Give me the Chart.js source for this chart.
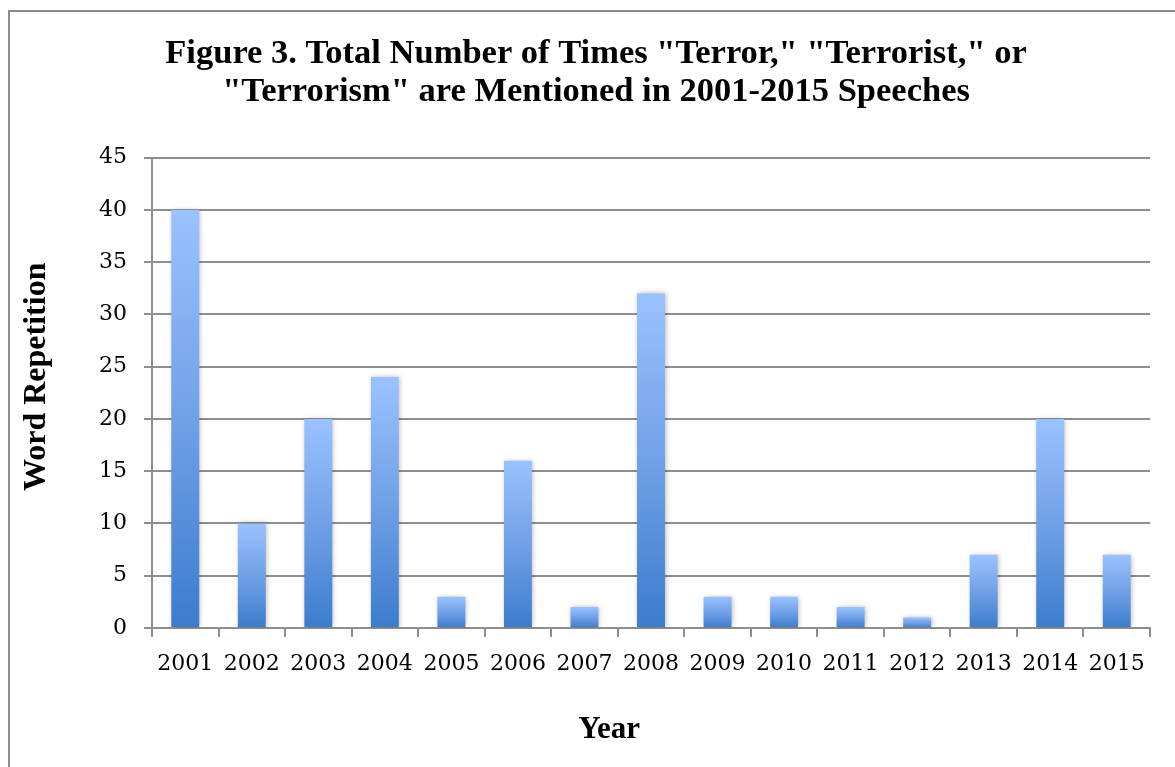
<!DOCTYPE html>
<html>
<head>
<meta charset="utf-8">
<script src="https://cdn.jsdelivr.net/npm/chart.js@4/dist/chart.umd.min.js"></script>
<style>
  html, body { margin: 0; padding: 0; background: #fff; overflow: hidden; }
  #frame { position: absolute; left: 8px; top: 10px; width: 1300px; height: 900px; border: 2px solid #8c8c8c; }
  #chart { position: absolute; left: 0; top: 0; }
</style>
</head>
<body>
<div id="frame"></div>
<canvas id="chart" width="1175" height="767"></canvas>
<script>
const years = ['2001', '2002', '2003', '2004', '2005', '2006', '2007', '2008',
  '2009', '2010', '2011', '2012', '2013', '2014', '2015']
const mentions = [40, 10, 20, 24, 3, 16, 2, 32, 3, 3, 2, 1, 7, 20, 7]
const titleLines = [
  'Figure 3. Total Number of Times "Terror," "Terrorist," or',
  '"Terrorism" are Mentioned in 2001-2015 Speeches',
]
// the axis titles sit a little off-centre in the original, spaces nudge them
const xTitle = 'Year\u2003\u2003\u2002\u2009'
const yTitle = '\u2003Word Repetition'

const gridGray = '#8e8e8e'

// each bar gets its own light-top / dark-bottom gradient
const barFill = (c) => {
  const { chart } = c
  if (!chart.chartArea || c.type !== 'data') return '#6e9ee6'
  const y = chart.scales.y
  const top = y.getPixelForValue(c.raw)
  const base = y.getPixelForValue(0)
  const g = chart.ctx.createLinearGradient(0, top, 0, base)
  g.addColorStop(0, '#9bc2ff')
  g.addColorStop(0.55, '#6c9de4')
  g.addColorStop(1, '#3b7ccd')
  return g
}

const barShadow = {
  id: 'barShadow',
  beforeDatasetsDraw(chart) {
    const ctx = chart.ctx
    ctx.save()
    ctx.shadowColor = 'rgba(0, 0, 0, 0.28)'
    ctx.shadowBlur = 5
    ctx.shadowOffsetX = 1
    ctx.shadowOffsetY = 0
  },
  afterDatasetsDraw(chart) {
    chart.ctx.restore()
  },
}

new Chart(document.getElementById('chart'), {
  type: 'bar',
  data: {
    labels: years,
    datasets: [
      {
        label: 'Word Repetition',
        data: mentions,
        backgroundColor: barFill,
        borderWidth: 0,
        categoryPercentage: 1,
        barPercentage: 0.42,
      },
    ],
  },
  options: {
    responsive: false,
    animation: false,
    layout: { padding: { left: 42, right: 25, top: 10, bottom: 0 } },
    plugins: {
      legend: { display: false },
      tooltip: { enabled: false },
      title: {
        display: true,
        text: titleLines,
        color: '#000',
        font: { family: 'Liberation Serif', size: 34.5, weight: 'bold', lineHeight: 1.11 },
        padding: { top: 25, bottom: 46 },
      },
    },
    scales: {
      x: {
        grid: { drawOnChartArea: false, drawTicks: true, tickLength: 9, color: gridGray, lineWidth: 2 },
        border: { color: gridGray, width: 2 },
        ticks: { color: '#000', font: { family: 'DejaVu Serif', size: 22 }, padding: 14, maxRotation: 0 },
        title: {
          display: true,
          text: xTitle,
          color: '#000',
          font: { family: 'Liberation Serif', size: 31, weight: 'bold', lineHeight: 1.2 },
          padding: { top: 0, bottom: 18 },
        },
        afterFit(scale) { scale.height = 139 },
      },
      y: {
        min: 0,
        max: 45,
        grid: { color: gridGray, lineWidth: 2, tickLength: 8 },
        border: { color: gridGray, width: 2 },
        ticks: { stepSize: 5, color: '#000', font: { family: 'DejaVu Serif', size: 22 }, padding: 17 },
        title: {
          display: true,
          text: yTitle,
          color: '#000',
          font: { family: 'Liberation Serif', size: 32, weight: 'bold', lineHeight: 1.2 },
          padding: { top: -24, bottom: 0 },
        },
        afterFit(scale) { scale.width = 110 },
      },
    },
  },
  plugins: [barShadow],
})
</script>
</body>
</html>
